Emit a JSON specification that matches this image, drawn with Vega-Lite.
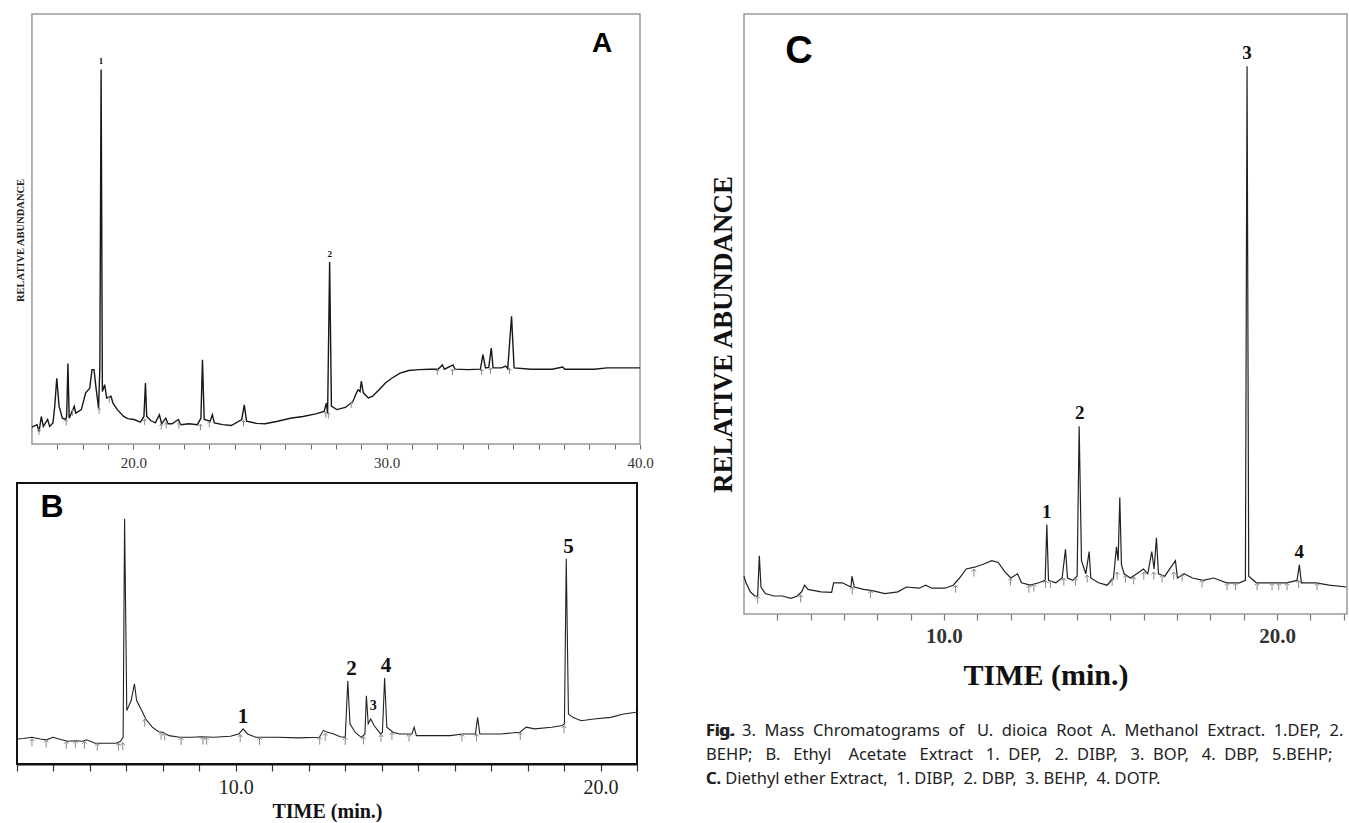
{
  "$schema": "https://vega.github.io/schema/vega-lite/v6.json",
  "padding": {"left": 13, "top": 13, "right": 0, "bottom": 0},
  "background": "white",
  "config": {"axis": {"grid": false}},
  "datasets": {
    "A": [
      {"t":16.00,"v":3.9},{"t":16.20,"v":4.5},{"t":16.28,"v":2.9},{"t":16.37,"v":6.4},{"t":16.45,"v":4.1},{"t":16.62,"v":5.7},{"t":16.70,"v":4.1},{"t":16.83,"v":4.9},{"t":16.90,"v":8.8},{"t":16.98,"v":15.3},{"t":17.07,"v":8.8},{"t":17.20,"v":6.0},{"t":17.33,"v":5.7},{"t":17.37,"v":6.4},{"t":17.42,"v":18.7},{"t":17.47,"v":6.0},{"t":17.62,"v":8.0},{"t":17.67,"v":8.8},{"t":17.73,"v":7.2},{"t":17.95,"v":8.0},{"t":18.12,"v":11.9},{"t":18.28,"v":13.0},{"t":18.37,"v":17.3},{"t":18.45,"v":17.3},{"t":18.53,"v":13.0},{"t":18.63,"v":8.4},{"t":18.68,"v":17.7},{"t":18.73,"v":87.1},{"t":18.78,"v":12.2},{"t":18.87,"v":13.8},{"t":18.95,"v":10.7},{"t":19.12,"v":11.1},{"t":19.20,"v":9.5},{"t":19.37,"v":8.0},{"t":19.62,"v":6.4},{"t":19.78,"v":5.9},{"t":20.03,"v":5.7},{"t":20.28,"v":5.1},{"t":20.42,"v":6.4},{"t":20.48,"v":14.2},{"t":20.53,"v":6.4},{"t":20.70,"v":5.4},{"t":20.87,"v":4.9},{"t":21.03,"v":6.8},{"t":21.12,"v":4.7},{"t":21.28,"v":6.0},{"t":21.37,"v":4.7},{"t":21.53,"v":4.7},{"t":21.78,"v":5.7},{"t":21.87,"v":4.5},{"t":22.20,"v":4.7},{"t":22.53,"v":4.5},{"t":22.67,"v":6.0},{"t":22.73,"v":19.6},{"t":22.80,"v":5.7},{"t":23.03,"v":5.3},{"t":23.12,"v":6.8},{"t":23.20,"v":4.9},{"t":23.53,"v":4.5},{"t":23.87,"v":4.3},{"t":24.28,"v":5.7},{"t":24.38,"v":9.1},{"t":24.47,"v":5.3},{"t":24.87,"v":4.8},{"t":25.20,"v":4.7},{"t":25.70,"v":5.3},{"t":26.20,"v":6.0},{"t":26.70,"v":6.4},{"t":27.20,"v":7.0},{"t":27.53,"v":7.6},{"t":27.62,"v":9.5},{"t":27.67,"v":7.2},{"t":27.75,"v":42.3},{"t":27.82,"v":8.8},{"t":28.03,"v":8.0},{"t":28.37,"v":8.5},{"t":28.67,"v":9.9},{"t":28.78,"v":11.5},{"t":28.87,"v":12.6},{"t":28.95,"v":12.2},{"t":29.00,"v":14.6},{"t":29.08,"v":11.9},{"t":29.28,"v":10.7},{"t":29.45,"v":11.1},{"t":29.70,"v":12.6},{"t":29.95,"v":14.2},{"t":30.20,"v":15.3},{"t":30.53,"v":16.5},{"t":30.87,"v":17.1},{"t":31.28,"v":17.3},{"t":31.70,"v":17.4},{"t":32.03,"v":17.4},{"t":32.20,"v":18.4},{"t":32.28,"v":17.4},{"t":32.62,"v":18.4},{"t":32.70,"v":17.4},{"t":33.20,"v":17.3},{"t":33.70,"v":17.4},{"t":33.80,"v":20.8},{"t":33.90,"v":17.7},{"t":34.03,"v":17.8},{"t":34.13,"v":22.3},{"t":34.20,"v":17.7},{"t":34.53,"v":17.7},{"t":34.70,"v":18.1},{"t":34.78,"v":17.5},{"t":34.93,"v":29.7},{"t":35.03,"v":17.7},{"t":35.70,"v":17.4},{"t":36.53,"v":17.4},{"t":36.95,"v":17.9},{"t":37.03,"v":17.4},{"t":38.20,"v":17.4},{"t":38.70,"v":17.7},{"t":40.00,"v":17.7}
    ],
    "B": [
      {"t":4.00,"v":8.9},{"t":4.17,"v":9.1},{"t":4.41,"v":9.5},{"t":4.64,"v":8.9},{"t":4.81,"v":8.6},{"t":4.98,"v":9.5},{"t":5.22,"v":8.6},{"t":5.39,"v":8.1},{"t":5.62,"v":8.3},{"t":5.80,"v":8.1},{"t":5.91,"v":8.6},{"t":6.14,"v":7.4},{"t":6.38,"v":7.4},{"t":6.72,"v":7.4},{"t":6.84,"v":8.1},{"t":6.91,"v":9.5},{"t":6.95,"v":87.3},{"t":7.01,"v":19.0},{"t":7.13,"v":22.6},{"t":7.22,"v":28.5},{"t":7.28,"v":22.6},{"t":7.42,"v":19.0},{"t":7.53,"v":16.0},{"t":7.71,"v":13.1},{"t":7.88,"v":11.5},{"t":8.00,"v":11.3},{"t":8.17,"v":10.1},{"t":8.46,"v":9.5},{"t":8.81,"v":9.5},{"t":9.04,"v":9.7},{"t":9.39,"v":9.5},{"t":9.85,"v":9.9},{"t":10.08,"v":10.7},{"t":10.20,"v":12.5},{"t":10.32,"v":10.7},{"t":10.55,"v":9.5},{"t":11.13,"v":9.5},{"t":11.71,"v":9.3},{"t":12.29,"v":9.5},{"t":12.40,"v":11.9},{"t":12.52,"v":11.3},{"t":12.69,"v":10.7},{"t":12.86,"v":9.7},{"t":13.00,"v":9.5},{"t":13.07,"v":29.5},{"t":13.13,"v":14.3},{"t":13.27,"v":11.3},{"t":13.44,"v":9.5},{"t":13.54,"v":10.7},{"t":13.58,"v":24.3},{"t":13.63,"v":14.3},{"t":13.70,"v":16.0},{"t":13.79,"v":13.7},{"t":13.97,"v":10.7},{"t":14.02,"v":11.3},{"t":14.08,"v":30.6},{"t":14.14,"v":13.1},{"t":14.31,"v":11.3},{"t":14.49,"v":10.7},{"t":14.83,"v":10.7},{"t":14.89,"v":13.1},{"t":14.95,"v":10.1},{"t":15.41,"v":10.1},{"t":15.88,"v":10.1},{"t":16.22,"v":10.7},{"t":16.57,"v":10.7},{"t":16.63,"v":16.6},{"t":16.69,"v":10.7},{"t":17.27,"v":10.7},{"t":17.79,"v":11.3},{"t":17.96,"v":13.1},{"t":18.19,"v":12.5},{"t":18.66,"v":13.1},{"t":18.95,"v":13.7},{"t":19.01,"v":14.3},{"t":19.06,"v":73.0},{"t":19.12,"v":17.8},{"t":19.24,"v":16.6},{"t":19.47,"v":15.4},{"t":19.82,"v":16.0},{"t":20.28,"v":16.6},{"t":20.63,"v":17.8},{"t":20.98,"v":18.4}
    ],
    "C": [
      {"t":4.00,"v":6.3},{"t":4.06,"v":5.2},{"t":4.19,"v":3.7},{"t":4.32,"v":3.0},{"t":4.41,"v":3.0},{"t":4.46,"v":9.7},{"t":4.51,"v":4.5},{"t":4.64,"v":3.4},{"t":4.90,"v":3.0},{"t":5.15,"v":3.0},{"t":5.41,"v":2.6},{"t":5.60,"v":3.0},{"t":5.73,"v":3.7},{"t":5.82,"v":4.8},{"t":5.92,"v":4.1},{"t":6.31,"v":3.7},{"t":6.63,"v":3.6},{"t":6.69,"v":5.2},{"t":6.95,"v":5.2},{"t":7.21,"v":4.5},{"t":7.24,"v":6.3},{"t":7.31,"v":4.5},{"t":7.59,"v":4.1},{"t":7.85,"v":3.9},{"t":8.23,"v":3.4},{"t":8.62,"v":3.7},{"t":8.87,"v":4.5},{"t":9.26,"v":4.3},{"t":9.45,"v":4.8},{"t":9.64,"v":4.3},{"t":10.03,"v":4.3},{"t":10.28,"v":4.8},{"t":10.47,"v":6.0},{"t":10.67,"v":7.5},{"t":10.92,"v":7.8},{"t":11.18,"v":8.3},{"t":11.44,"v":8.9},{"t":11.63,"v":8.6},{"t":11.82,"v":7.1},{"t":12.01,"v":6.0},{"t":12.21,"v":6.7},{"t":12.33,"v":5.2},{"t":12.59,"v":4.8},{"t":12.85,"v":5.2},{"t":13.04,"v":5.6},{"t":13.09,"v":14.9},{"t":13.14,"v":5.6},{"t":13.36,"v":5.2},{"t":13.55,"v":6.0},{"t":13.65,"v":10.8},{"t":13.71,"v":6.0},{"t":13.87,"v":5.6},{"t":14.00,"v":6.3},{"t":14.06,"v":31.3},{"t":14.13,"v":8.9},{"t":14.26,"v":6.7},{"t":14.36,"v":10.4},{"t":14.41,"v":6.0},{"t":14.64,"v":5.2},{"t":14.90,"v":4.8},{"t":15.09,"v":6.0},{"t":15.18,"v":11.2},{"t":15.23,"v":8.9},{"t":15.28,"v":19.4},{"t":15.33,"v":8.2},{"t":15.41,"v":6.7},{"t":15.60,"v":6.0},{"t":15.79,"v":6.7},{"t":15.99,"v":7.5},{"t":16.12,"v":6.7},{"t":16.24,"v":10.4},{"t":16.31,"v":7.5},{"t":16.38,"v":12.7},{"t":16.44,"v":6.7},{"t":16.63,"v":6.3},{"t":16.95,"v":8.9},{"t":17.01,"v":6.0},{"t":17.21,"v":6.7},{"t":17.46,"v":6.0},{"t":17.78,"v":5.6},{"t":18.10,"v":6.0},{"t":18.49,"v":5.2},{"t":18.87,"v":5.2},{"t":19.05,"v":5.6},{"t":19.10,"v":91.3},{"t":19.15,"v":6.3},{"t":19.38,"v":5.2},{"t":19.90,"v":5.2},{"t":20.28,"v":5.2},{"t":20.60,"v":5.6},{"t":20.67,"v":8.2},{"t":20.73,"v":5.2},{"t":21.18,"v":5.2},{"t":21.56,"v":4.8},{"t":22.08,"v":4.5}
    ],
    "mA": [
      {"t":16.28,"v":3.5},{"t":17.35,"v":5.7},{"t":17.6,"v":8},{"t":18.65,"v":8.4},{"t":19.05,"v":11},{"t":20.45,"v":5.8},{"t":21.1,"v":4.7},{"t":21.3,"v":5},{"t":21.8,"v":5},{"t":22.65,"v":4.6},{"t":23.0,"v":5.3},{"t":24.35,"v":5.5},{"t":27.6,"v":7.5},{"t":27.7,"v":7.3},{"t":28.6,"v":9.8},{"t":32.0,"v":17.4},{"t":32.6,"v":17.4},{"t":33.75,"v":17.4},{"t":34.1,"v":17.7},{"t":34.85,"v":17.6}
    ],
    "mB": [
      {"t":4.41,"v":9},{"t":4.8,"v":8.6},{"t":5.35,"v":8.1},{"t":5.6,"v":8.3},{"t":5.85,"v":8.1},{"t":6.2,"v":7.4},{"t":6.78,"v":7.4},{"t":6.9,"v":7.6},{"t":7.5,"v":16},{"t":7.95,"v":11.3},{"t":8.05,"v":11},{"t":8.5,"v":9.5},{"t":9.1,"v":9.6},{"t":9.2,"v":9.6},{"t":10.12,"v":10.5},{"t":10.65,"v":9.5},{"t":12.3,"v":9.6},{"t":12.45,"v":11},{"t":13.0,"v":9.5},{"t":13.5,"v":9.7},{"t":13.98,"v":10.5},{"t":14.28,"v":11.3},{"t":14.75,"v":10.7},{"t":16.2,"v":10.7},{"t":16.6,"v":10.7},{"t":17.8,"v":11.3},{"t":19.0,"v":13.7}
    ],
    "mC": [
      {"t":4.41,"v":3},{"t":5.7,"v":3.2},{"t":7.25,"v":4.5},{"t":7.8,"v":3.9},{"t":10.35,"v":4.8},{"t":10.9,"v":7.5},{"t":12.0,"v":6},{"t":12.55,"v":4.8},{"t":12.7,"v":5},{"t":13.05,"v":5.6},{"t":13.2,"v":5.6},{"t":13.6,"v":6},{"t":13.95,"v":6},{"t":14.3,"v":6.5},{"t":15.05,"v":6},{"t":15.2,"v":7},{"t":15.45,"v":6.5},{"t":15.7,"v":6.2},{"t":16.0,"v":7},{"t":16.3,"v":7},{"t":16.55,"v":6.5},{"t":16.9,"v":7},{"t":17.15,"v":6.7},{"t":17.75,"v":5.7},{"t":18.5,"v":5.2},{"t":18.75,"v":5.2},{"t":19.4,"v":5.2},{"t":19.85,"v":5.2},{"t":20.05,"v":5.2},{"t":20.3,"v":5.2},{"t":20.65,"v":5.6},{"t":21.2,"v":5.2}
    ],
    "pA": [{"t":18.73,"v":87.1,"label":"1"},{"t":27.75,"v":42.3,"label":"2"}],
    "pB": [{"t":10.2,"v":12.5,"label":"1"},{"t":13.17,"v":29.5,"label":"2"},{"t":13.77,"v":20.8,"label":"3"},{"t":14.12,"v":30.6,"label":"4"},{"t":19.12,"v":73.0,"label":"5"}],
    "pC": [{"t":13.09,"v":14.9,"label":"1"},{"t":14.08,"v":31.3,"label":"2"},{"t":19.1,"v":91.3,"label":"3"},{"t":20.67,"v":8.2,"label":"4"}],
    "frameA": [{"t":16,"t2":40,"v":0,"v2":100}],
    "letters": [{"panel":"A","t":38.5,"v":93,"label":"A"},{"panel":"B","t":4.96,"v":91.5,"label":"B"},{"panel":"C","t":5.65,"v":93.7,"label":"C"}]
  },
  "concat": [
    {
      "concat": [
        {
          "width": 623, "height": 430,
          "view": {"stroke": null},
          "encoding": {
            "x": {"field": "t", "type": "quantitative", "scale": {"domain": [15.41, 40], "nice": false, "zero": false},
              "axis": {"title": null, "values": [17,18,19,20,21,22,23,24,25,26,27,28,29,30,31,32,33,34,35,36,37,38,39,40], "labelExpr": "datum.value % 10 === 0 ? format(datum.value, '.1f') : ''", "domain": false, "tickSize": 5, "tickColor": "#666", "tickWidth": 1, "labelFont": "Liberation Serif", "labelFontSize": 15, "labelColor": "#333", "labelPadding": 6, "labelFlush": false, "labelOverlap": false}},
            "y": {"field": "v", "type": "quantitative", "scale": {"domain": [0, 100], "nice": false},
              "axis": {"title": "RELATIVE ABUNDANCE", "titleFont": "Liberation Serif", "titleFontWeight": "bold", "titleFontSize": 10.5, "titleColor": "#222", "titleX": 3, "titleY": 226, "titleAlign": "center", "titleBaseline": "middle", "titleAngle": -90, "labels": false, "ticks": false, "domain": false}}
          },
          "layer": [
            {"data": {"name": "frameA"}, "mark": {"type": "rect", "filled": false, "fill": null, "stroke": "#9a9a9a", "strokeWidth": 1.5}, "encoding": {"x2": {"field": "t2"}, "y2": {"field": "v2"}}},
            {"data": {"name": "A"}, "mark": {"type": "line", "color": "#181818", "strokeWidth": 1.4}},
            {"data": {"name": "mA"}, "mark": {"type": "point", "shape": "M0,0L0,2.4M-0.7,0.8L0,0L0.7,0.8", "size": 25, "filled": false, "stroke": "#8a8a8a", "strokeWidth": 1, "opacity": 1}},
            {"data": {"name": "pA"}, "mark": {"type": "text", "font": "Liberation Serif", "fontWeight": "bold", "fontSize": 9, "color": "#111", "baseline": "bottom", "dy": -3}, "encoding": {"text": {"field": "label"}}},
            {"data": {"name": "letters"}, "transform": [{"filter": "datum.panel === 'A'"}], "mark": {"type": "text", "font": "Liberation Sans", "fontWeight": "bold", "fontSize": 28, "color": "#000"}, "encoding": {"text": {"field": "label"}}}
          ]
        },
        {
          "width": 620, "height": 281,
          "view": {"stroke": "#111", "strokeWidth": 2},
          "encoding": {
            "x": {"field": "t", "type": "quantitative", "scale": {"domain": [4, 21], "nice": false, "zero": false},
              "axis": {"title": "TIME (min.)", "titleFont": "Liberation Serif", "titleFontWeight": "bold", "titleFontSize": 20, "titleColor": "#111", "titlePadding": 4, "values": [4,5,6,7,8,9,10,11,12,13,14,15,16,17,18,19,20,21], "labelExpr": "datum.value % 10 === 0 ? format(datum.value, '.1f') : ''", "domain": true, "domainColor": "#111", "domainWidth": 2, "tickSize": 7, "tickColor": "#333", "tickWidth": 1.2, "labelFont": "Liberation Serif", "labelFontSize": 20, "labelColor": "#222", "labelPadding": 6, "labelFlush": false, "labelOverlap": false}},
            "y": {"field": "v", "type": "quantitative", "scale": {"domain": [0, 100], "nice": false}, "axis": null}
          },
          "layer": [
            {"data": {"name": "B"}, "mark": {"type": "line", "color": "#222", "strokeWidth": 1.1}},
            {"data": {"name": "mB"}, "mark": {"type": "point", "shape": "M0,0L0,2.4M-0.7,0.8L0,0L0.7,0.8", "size": 40, "filled": false, "stroke": "#8a8a8a", "strokeWidth": 1, "opacity": 1}},
            {"data": {"name": "pB"}, "transform": [{"filter": "datum.label !== '3'"}], "mark": {"type": "text", "font": "Liberation Serif", "fontWeight": "bold", "fontSize": 21, "color": "#111", "baseline": "bottom", "dy": -2}, "encoding": {"text": {"field": "label"}}},
            {"data": {"name": "pB"}, "transform": [{"filter": "datum.label === '3'"}], "mark": {"type": "text", "font": "Liberation Serif", "fontWeight": "bold", "fontSize": 14, "color": "#111", "baseline": "middle"}, "encoding": {"text": {"field": "label"}}},
            {"data": {"name": "letters"}, "transform": [{"filter": "datum.panel === 'B'"}], "mark": {"type": "text", "font": "Liberation Sans", "fontWeight": "bold", "fontSize": 32, "color": "#000"}, "encoding": {"text": {"field": "label"}}}
          ]
        }
      ],
      "columns": 1, "align": "none", "spacing": 12
    },
    {
      "concat": [
        {
          "width": 603, "height": 600,
          "view": {"stroke": "#9a9a9a", "strokeWidth": 1.5},
          "encoding": {
            "x": {"field": "t", "type": "quantitative", "scale": {"domain": [4, 22.1], "nice": false, "zero": false},
              "axis": {"title": "TIME (min.)", "titleFont": "Liberation Serif", "titleFontWeight": "bold", "titleFontSize": 30, "titleColor": "#111", "titlePadding": 14, "values": [5,6,7,8,9,10,11,12,13,14,15,16,17,18,19,20,21,22], "labelExpr": "datum.value % 10 === 0 ? format(datum.value, '.1f') : ''", "domain": false, "tickSize": 6, "tickColor": "#777", "tickWidth": 1.2, "labelFont": "Liberation Serif", "labelFontWeight": "bold", "labelFontSize": 21, "labelColor": "#333", "labelPadding": 5, "labelFlush": false, "labelOverlap": false}},
            "y": {"field": "v", "type": "quantitative", "scale": {"domain": [0, 100], "nice": false},
              "axis": {"title": "RELATIVE ABUNDANCE", "titleFont": "Liberation Serif", "titleFontWeight": "bold", "titleFontSize": 27, "titleColor": "#111", "titlePadding": 7, "titleY": 320, "labels": false, "ticks": false, "domain": false}}
          },
          "layer": [
            {"data": {"name": "C"}, "mark": {"type": "line", "color": "#222", "strokeWidth": 1.2}},
            {"data": {"name": "mC"}, "mark": {"type": "point", "shape": "M0,0L0,2.4M-0.7,0.8L0,0L0.7,0.8", "size": 40, "filled": false, "stroke": "#8a8a8a", "strokeWidth": 1, "opacity": 1}},
            {"data": {"name": "pC"}, "mark": {"type": "text", "font": "Liberation Serif", "fontWeight": "bold", "fontSize": 19, "color": "#111", "baseline": "bottom", "dy": -3}, "encoding": {"text": {"field": "label"}}},
            {"data": {"name": "letters"}, "transform": [{"filter": "datum.panel === 'C'"}], "mark": {"type": "text", "font": "Liberation Sans", "fontWeight": "bold", "fontSize": 38, "color": "#000"}, "encoding": {"text": {"field": "label"}}}
          ]
        },
        {
          "width": 600, "height": 72,
          "view": {"stroke": null},
          "data": {"values": [{"caption": 1}]},
          "layer": [
            {"mark": {"type": "text", "align": "left", "baseline": "top", "font": "Noto Sans", "fontSize": 16.5, "lineHeight": 24, "color": "#222"},
             "encoding": {"x": {"value": -38}, "y": {"value": 0}, "text": {"value": ["Fig.\u00a0 3.\u00a0 Mass\u00a0 Chromatograms\u00a0 of\u00a0\u00a0 U.\u00a0 dioica\u00a0 Root\u00a0 A.\u00a0 Methanol\u00a0 Extract.\u00a0 1.DEP,\u00a0 2.", "BEHP;\u00a0\u00a0 B.\u00a0\u00a0 Ethyl\u00a0\u00a0\u00a0 Acetate\u00a0\u00a0 Extract\u00a0\u00a0 1.\u00a0 DEP,\u00a0\u00a0 2.\u00a0 DIBP,\u00a0\u00a0 3.\u00a0 BOP,\u00a0\u00a0 4.\u00a0 DBP,\u00a0\u00a0 5.BEHP;", "C. Diethyl\u00a0ether\u00a0Extract,\u00a0 1.\u00a0DIBP,\u00a0 2.\u00a0DBP,\u00a0 3.\u00a0BEHP,\u00a0 4.\u00a0DOTP."]}}},
            {"mark": {"type": "text", "align": "left", "baseline": "top", "font": "Noto Sans", "fontWeight": "bold", "fontSize": 16.5, "color": "#222", "text": "Fig."},
             "encoding": {"x": {"value": -38}, "y": {"value": 0}}},
            {"mark": {"type": "text", "align": "left", "baseline": "top", "font": "Noto Sans", "fontWeight": "bold", "fontSize": 16.5, "color": "#222", "text": "C."},
             "encoding": {"x": {"value": -38}, "y": {"value": 48}}}
          ]
        }
      ],
      "columns": 1, "align": "none", "spacing": 32
    }
  ],
  "columns": 2, "align": "none", "spacing": 52
}
